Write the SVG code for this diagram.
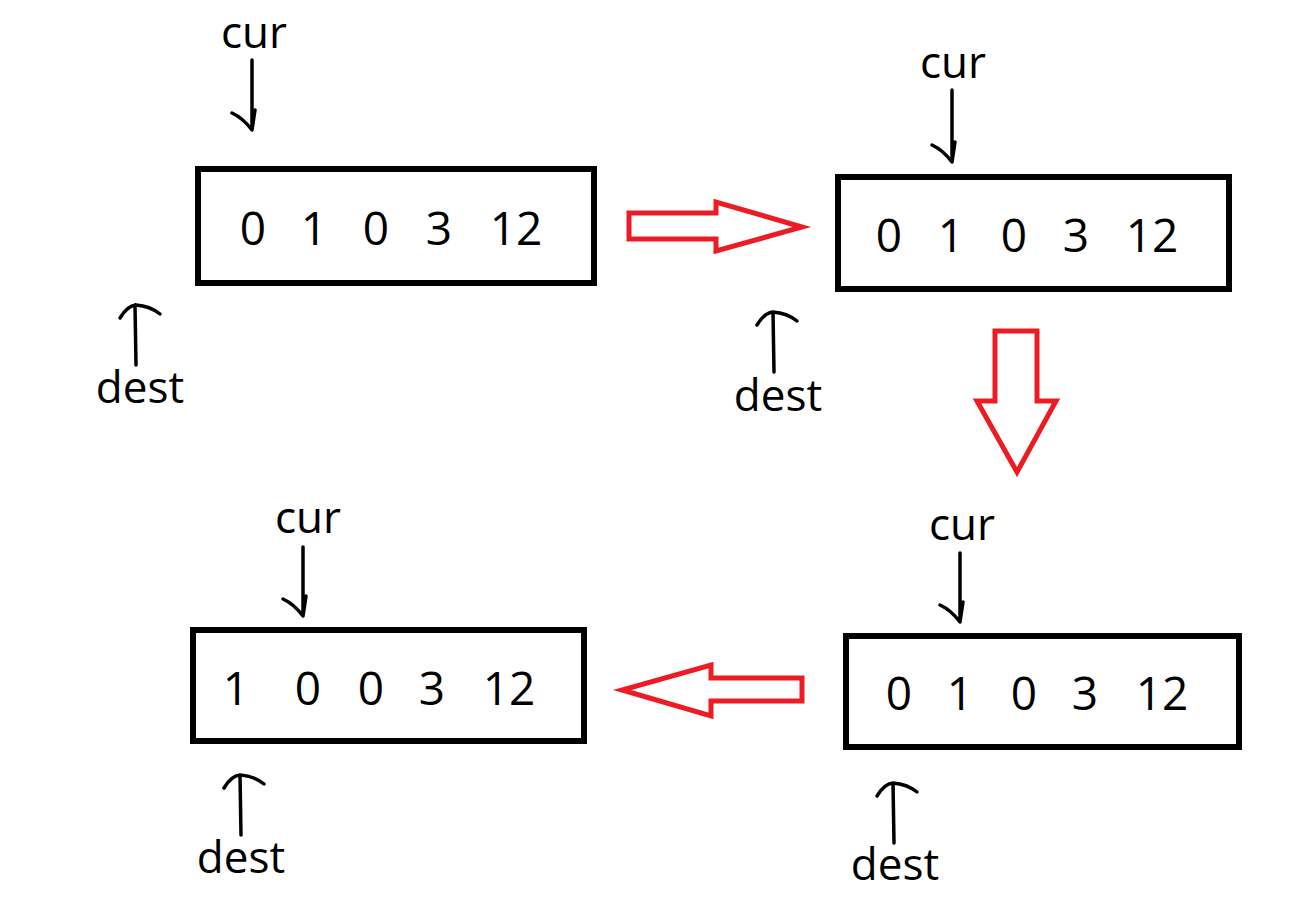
<svg xmlns="http://www.w3.org/2000/svg" width="1306" height="898" viewBox="0 0 1306 898">
<style>
.box{fill:#fff;stroke:#000;stroke-width:6}
.num{font-family:"Open Sans","Liberation Sans",sans-serif;font-size:46px;fill:#000;text-anchor:middle}
.lbl{font-family:"Open Sans","Liberation Sans",sans-serif;font-size:44px;fill:#000;text-anchor:middle}
.ptr{fill:none;stroke:#000;stroke-width:3.5;stroke-linecap:round;stroke-linejoin:round}
.big{fill:#fff;stroke:#ED1C24;stroke-width:5;stroke-linejoin:miter}
</style>
<rect width="1306" height="898" fill="#fff"/>
<g id="state1">
<rect class="box" x="198" y="169" width="396" height="114"/>
<text class="num" y="245"><tspan x="253">0</tspan><tspan x="314">1</tspan><tspan x="376">0</tspan><tspan x="439">3</tspan><tspan x="516">12</tspan></text>
<text class="lbl" x="254" y="48">cur</text>
<text class="lbl" x="140" y="403">dest</text>
</g>
<g id="state2">
<rect class="box" x="838" y="177" width="391" height="112"/>
<text class="num" y="252"><tspan x="889">0</tspan><tspan x="951">1</tspan><tspan x="1014">0</tspan><tspan x="1076">3</tspan><tspan x="1152">12</tspan></text>
<text class="lbl" x="953" y="78">cur</text>
<text class="lbl" x="778" y="411">dest</text>
</g>
<g id="state3">
<rect class="box" x="846" y="636" width="393" height="111"/>
<text class="num" y="710"><tspan x="899">0</tspan><tspan x="960">1</tspan><tspan x="1024">0</tspan><tspan x="1085">3</tspan><tspan x="1162">12</tspan></text>
<text class="lbl" x="962" y="540">cur</text>
<text class="lbl" x="895" y="880">dest</text>
</g>
<g id="state4">
<rect class="box" x="193" y="630" width="391" height="111"/>
<text class="num" y="705"><tspan x="236">1</tspan><tspan x="308">0</tspan><tspan x="371">0</tspan><tspan x="432">3</tspan><tspan x="509">12</tspan></text>
<text class="lbl" x="308" y="533">cur</text>
<text class="lbl" x="241" y="873">dest</text>
</g>
<g id="connectors">
<path class="ptr" d="M252,60 L252,130 M232,113 Q243,118 252,130 L255,110"/>
<path class="ptr" d="M952,90 L952,162 M932,145 Q943,150 952,162 L955,142"/>
<path class="ptr" d="M960,553 L960,622 M940,605 Q951,610 960,622 L963,602"/>
<path class="ptr" d="M303,547 L303,616 M283,599 Q294,604 303,616 L306,596"/>
<path class="ptr" d="M136,365 L135,305 M120,318 Q127,306 136,305 Q150,306 160,314"/>
<path class="ptr" d="M774,372 L773,312 M757,325 Q764,313 773,312 Q787,313 797,321"/>
<path class="ptr" d="M894,843 L893,783 M877,796 Q884,784 893,783 Q907,784 917,792"/>
<path class="ptr" d="M241,835 L240,775 M224,788 Q231,776 240,775 Q254,776 264,784"/>
<path class="big" d="M629,213 L716,213 L716,202 L802,227 L716,251 L716,239 L629,239 Z"/>
<path class="big" d="M995,331 L1037,331 L1037,401 L1056,401 L1017,472 L977,401 L995,401 Z"/>
<path class="big" d="M802,678 L711,678 L711,665 L622,690 L711,716 L711,701 L802,701 Z"/>
</g>
</svg>
